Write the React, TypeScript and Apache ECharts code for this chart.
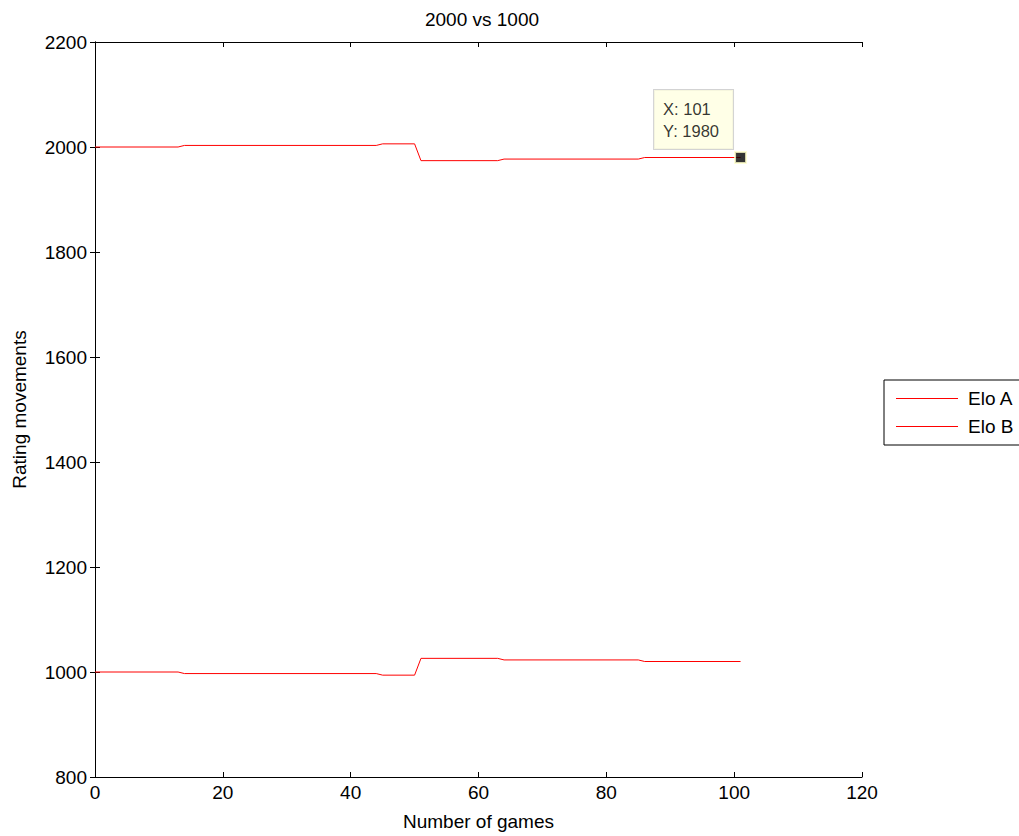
import React, { useEffect, useRef } from "react";
import * as echarts from "echarts";

const title = "2000 vs 1000";
const xName = "Number of games";
const yName = "Rating movements";
const seriesNames = ["Elo A", "Elo B"];
const gamesA = [0, 13, 14, 44, 45, 50, 51, 63, 64, 85, 86, 101];
const eloA = [2000, 2000, 2003, 2003, 2006, 2006, 1974, 1974, 1977, 1977, 1980, 1980];
const gamesB = [0, 13, 14, 44, 45, 50, 51, 63, 64, 85, 86, 101];
const eloB = [1000, 1000, 997, 997, 994, 994, 1026, 1026, 1023, 1023, 1020, 1020];
const tipX = 101;
const tipY = 1980;

const FONT = "'Liberation Sans', Arial, sans-serif";
const FS = 19;

export default function App() {
  const ref = useRef<HTMLDivElement>(null);
  useEffect(() => {
    document.body.style.margin = "0";
    if (!ref.current) return;
    const chart = echarts.init(ref.current, null, { renderer: "svg" });
    const axisCommon = {
      axisLine: { show: true, lineStyle: { color: "#000", width: 1 } },
      axisTick: { show: true, inside: true, length: 5, lineStyle: { color: "#000" } },
      splitLine: { show: false },
    };
    const plain = (v: number) => String(v);
    chart.setOption({
      animation: false,
      backgroundColor: "#fff",
      title: {
        text: title,
        left: 477,
        textAlign: "center",
        top: 5,
        textStyle: { fontFamily: FONT, fontSize: FS, fontWeight: "normal", color: "#000" },
      },
      grid: { left: 95, right: 157, top: 42, bottom: 59, containLabel: false },
      legend: {
        data: seriesNames,
        orient: "vertical",
        left: 884,
        top: 380,
        icon: "rect",
        itemWidth: 62,
        itemHeight: 1,
        itemGap: 9,
        padding: [9, 30, 9, 12],
        borderColor: "#000",
        borderWidth: 1,
        backgroundColor: "#fff",
        textStyle: { fontFamily: FONT, fontSize: FS, color: "#000", padding: [0, 0, 0, 5] },
      },
      xAxis: [
        {
          type: "value",
          min: 0,
          max: 120,
          interval: 20,
          position: "bottom",
          name: xName,
          nameLocation: "middle",
          nameGap: 35,
          nameTextStyle: { fontFamily: FONT, fontSize: FS, color: "#000" },
          axisLabel: { fontFamily: FONT, fontSize: FS, color: "#000", margin: 6, formatter: plain },
          ...axisCommon,
        },
        {
          type: "value",
          min: 0,
          max: 120,
          interval: 20,
          position: "top",
          axisLabel: { show: false },
          ...axisCommon,
        },
      ],
      yAxis: [
        {
          type: "value",
          min: 800,
          max: 2200,
          interval: 200,
          position: "left",
          name: yName,
          nameLocation: "middle",
          nameGap: 66,
          nameTextStyle: { fontFamily: FONT, fontSize: FS, color: "#000" },
          axisLabel: { fontFamily: FONT, fontSize: FS, color: "#000", margin: 8, formatter: plain },
          ...axisCommon,
        },
        {
          type: "value",
          min: 800,
          max: 2200,
          interval: 200,
          position: "right",
          axisLabel: { show: false },
          ...axisCommon,
        },
      ],
      series: [
        {
          name: seriesNames[0],
          type: "line",
          data: gamesA.map((g, i) => [g, eloA[i]]),
          symbol: "none",
          lineStyle: { color: "#ff0000", width: 1 },
          itemStyle: { color: "#ff0000" },
        },
        {
          name: seriesNames[1],
          type: "line",
          data: gamesB.map((g, i) => [g, eloB[i]]),
          symbol: "none",
          lineStyle: { color: "#ff0000", width: 1 },
          itemStyle: { color: "#ff0000" },
        },
        {
          name: "datatip",
          type: "scatter",
          data: [[tipX, tipY]],
          symbol: "rect",
          symbolSize: 11,
          itemStyle: { color: "#000", borderColor: "#ffffcc", borderWidth: 2 },
          label: {
            show: true,
            position: [-80, -61],
            align: "left",
            verticalAlign: "top",
            formatter: () => `X: ${tipX}\nY: ${tipY}`,
            fontFamily: FONT,
            fontSize: 16.5,
            lineHeight: 22,
            color: "#000",
            backgroundColor: "#ffffe1",
            borderColor: "#c8c8c8",
            borderWidth: 1,
            padding: [8, 14, 7, 9],
          },
          z: 10,
        },
      ],
    });
    return () => chart.dispose();
  }, []);
  return <div ref={ref} style={{ width: 1019, height: 836 }} />;
}
